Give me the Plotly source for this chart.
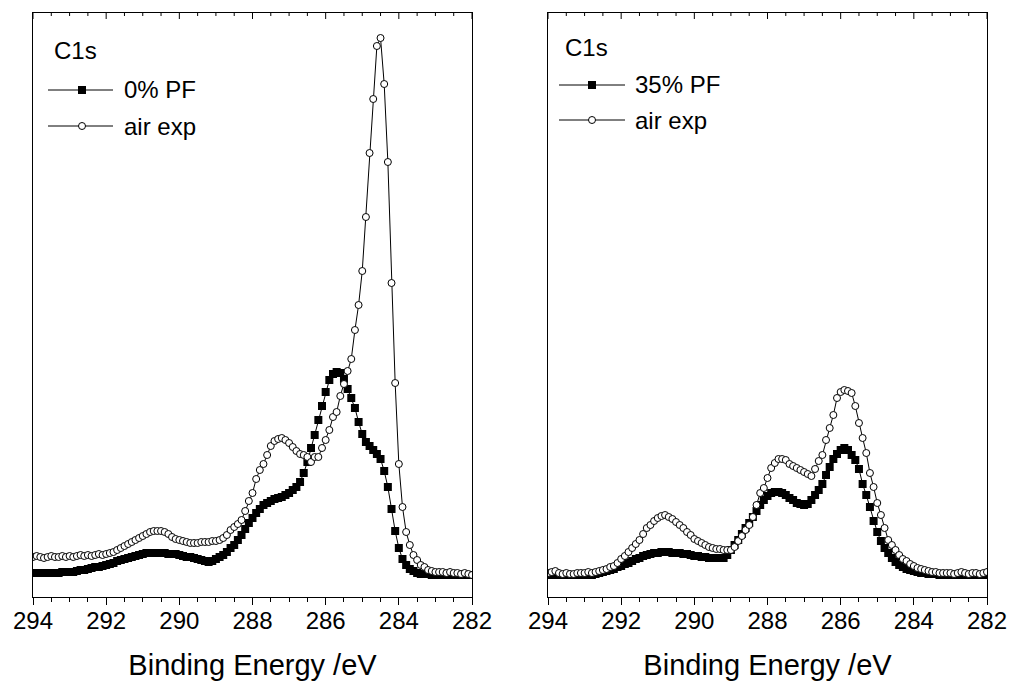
import plotly.graph_objects as go

# Binding energy grid (eV), 0.1 eV steps from 294 to 282
energy = [round(294.0 - 0.1 * i, 1) for i in range(121)]

# Left panel: 0% PF and air exp (intensity, a.u.)
pf0 = [24, 24, 24, 24, 24, 24, 24, 24, 25, 25,
       25, 25, 26, 27, 27, 28, 29, 30, 30, 31,
       32, 33, 34, 36, 37, 38, 39, 40, 41, 42,
       43, 44, 44, 44, 44, 44, 44, 43, 43, 43,
       42, 41, 40, 40, 39, 38, 37, 36, 35, 36,
       38, 40, 42, 45, 49, 52, 57, 62, 68, 74,
       79, 84, 88, 92, 94, 96, 98, 99, 100, 102,
       104, 107, 110, 115, 124, 135, 149, 162, 177, 191,
       205, 217, 223, 225, 224, 218, 208, 199, 189, 175,
       163, 155, 151, 147, 143, 138, 126, 110, 88, 66,
       49, 38, 32, 28, 26, 24, 23, 23, 23, 22,
       22, 22, 22, 22, 22, 22, 22, 22, 22, 22,
       22]

air_left = [40, 41, 40, 39, 40, 41, 40, 40, 41, 40,
            41, 40, 41, 42, 41, 42, 41, 42, 43, 42,
            43, 44, 45, 47, 49, 51, 53, 55, 57, 59,
            61, 63, 65, 66, 66, 66, 65, 63, 60, 58,
            57, 56, 55, 54, 54, 54, 55, 55, 55, 56,
            56, 57, 59, 62, 67, 70, 73, 77, 86, 96,
            104, 118, 127, 133, 142, 151, 156, 158, 159, 157,
            154, 150, 146, 143, 142, 140, 135, 140, 140, 149,
            157, 167, 180, 185, 201, 213, 226, 238, 267, 292,
            326, 380, 444, 498, 551, 559, 513, 435, 314, 214,
            133, 90, 65, 52, 42, 37, 32, 30, 27, 26,
            25, 25, 25, 24, 25, 24, 24, 23, 24, 23,
            22]

# Right panel: 35% PF and air exp
pf35 = [22, 22, 22, 22, 22, 22, 22, 22, 22, 22,
        22, 22, 22, 23, 24, 25, 26, 27, 28, 30,
        31, 33, 34, 36, 38, 39, 41, 42, 43, 44,
        44, 45, 45, 45, 44, 44, 44, 43, 43, 42,
        41, 41, 40, 40, 39, 39, 39, 39, 39, 42,
        47, 52, 57, 63, 69, 74, 80, 86, 92, 97,
        101, 104, 105, 105, 104, 102, 99, 97, 94, 93,
        92, 93, 97, 102, 107, 113, 122, 130, 138, 143,
        147, 149, 147, 142, 137, 128, 113, 102, 90, 76,
        65, 56, 49, 44, 39, 35, 32, 30, 28, 27,
        26, 25, 24, 24, 23, 23, 23, 22, 22, 22,
        22, 22, 22, 22, 22, 22, 22, 22, 22, 22,
        22]

air_right = [24, 25, 26, 24, 23, 24, 23, 23, 24, 24,
             24, 25, 24, 25, 26, 27, 28, 30, 31, 34,
             38, 41, 45, 49, 53, 57, 63, 69, 72, 76,
             79, 81, 82, 80, 78, 75, 72, 69, 65, 62,
             58, 56, 54, 52, 50, 49, 48, 48, 47, 47,
             47, 50, 56, 61, 67, 72, 80, 92, 104, 109,
             119, 129, 134, 138, 138, 137, 133, 131, 129, 127,
             125, 123, 121, 128, 136, 142, 157, 169, 182, 199,
             205, 207, 206, 204, 191, 174, 159, 144, 124, 110,
             94, 82, 69, 57, 52, 47, 42, 38, 36, 33,
             31, 29, 28, 27, 26, 25, 25, 24, 24, 24,
             24, 23, 24, 25, 24, 23, 24, 24, 23, 24,
             25]

tick_vals = [294, 292, 290, 288, 286, 284, 282]
tick_text = ["294", "292", "290", "288", "286", "284", "282"]
minor_step = 0.5
panel_title = "C1s"
legend_left = ["0% PF", "air exp"]
legend_right = ["35% PF", "air exp"]
x_title = "Binding Energy /eV"

W, H = 1011, 685
FONT = "Liberation Sans, Arial, sans-serif"


def fx(p):
    return p / W


def fy(p):
    return (H - p) / H


fig = go.Figure()

sq = dict(symbol="square", size=8, color="black", line=dict(width=0))
ci = dict(symbol="circle", size=7, color="white", line=dict(width=1, color="black"))

# squares on the bottom axes, circles on the overlaid axes (same range/domain) so they sit on top
fig.add_trace(go.Scatter(x=energy, y=pf0, mode="lines+markers", name=legend_left[0],
                         line=dict(color="black", width=1), marker=sq,
                         xaxis="x", yaxis="y", showlegend=False))
fig.add_trace(go.Scatter(x=energy, y=pf35, mode="lines+markers", name=legend_right[0],
                         line=dict(color="black", width=1), marker=sq,
                         xaxis="x2", yaxis="y2", showlegend=False))
fig.add_trace(go.Scatter(x=energy, y=air_left, mode="lines+markers", name=legend_left[1],
                         line=dict(color="black", width=1), marker=ci,
                         xaxis="x3", yaxis="y", showlegend=False))
fig.add_trace(go.Scatter(x=energy, y=air_right, mode="lines+markers", name=legend_right[1],
                         line=dict(color="black", width=1), marker=ci,
                         xaxis="x4", yaxis="y2", showlegend=False))

dom_left = [fx(33), fx(472)]
dom_right = [fx(548), fx(987)]
dom_y = [fy(597), fy(13)]
xr = [294, 282]
yr = [0, 584]

xbase = dict(range=xr, showline=True, linecolor="black", linewidth=1,
             ticks="outside", ticklen=7, tickwidth=1, tickcolor="black",
             tickvals=tick_vals, ticktext=tick_text, ticklabelstandoff=-5,
             tickfont=dict(family=FONT, size=24, color="black"),
             minor=dict(dtick=minor_step, tick0=282, ticks="outside", ticklen=4, tickwidth=1, tickcolor="black"),
             showgrid=False, zeroline=False, automargin=False,
             title=dict(text=x_title, font=dict(family=FONT, size=29, color="black"), standoff=21))
xtop = dict(range=xr, showline=True, linecolor="black", linewidth=1,
            ticks="", showticklabels=False,
            showgrid=False, zeroline=False, automargin=False, side="top")
ybase = dict(range=yr, showline=True, mirror=True, linecolor="black", linewidth=1,
             ticks="", showticklabels=False, showgrid=False, zeroline=False, automargin=False,
             domain=dom_y)

fig.update_layout(
    width=W, height=H, margin=dict(l=0, r=0, t=0, b=0),
    paper_bgcolor="white", plot_bgcolor="white", template="none",
    font=dict(family=FONT, color="black"),
    xaxis=dict(xbase, domain=dom_left, anchor="y"),
    yaxis=dict(ybase, anchor="x"),
    xaxis2=dict(xbase, domain=dom_right, anchor="y2"),
    yaxis2=dict(ybase, anchor="x2"),
    xaxis3=dict(xtop, overlaying="x", anchor="y", domain=dom_left),
    xaxis4=dict(xtop, overlaying="x2", anchor="y2", domain=dom_right),
)

shapes = []
annotations = []

# inward-pointing ticks along the top frame of both panels
top_ticks = [tick_vals[-1] + minor_step * k for k in range(int((tick_vals[0] - tick_vals[-1]) / minor_step) + 1)]
for xref in ["x", "x2"]:
    for v in top_ticks:
        length = 6 if v in tick_vals else 3
        shapes.append(dict(type="line", xref=xref, yref="paper", ysizemode="pixel",
                           yanchor=fy(13), x0=v, x1=v, y0=0, y1=-length,
                           line=dict(color="black", width=1)))

# Hand-drawn legends (line with centered marker, text to the right)
panels = [
    dict(title_x=52, title_y=51, rows=[(90, legend_left[0], "sq"), (126, legend_left[1], "ci")],
         lx0=48, lx1=113, mx=82, tx=122),
    dict(title_x=563, title_y=47, rows=[(85, legend_right[0], "sq"), (120, legend_right[1], "ci")],
         lx0=559, lx1=625, mx=592, tx=633),
]
for p in panels:
    annotations.append(dict(x=fx(p["title_x"]), y=fy(p["title_y"]), xref="paper", yref="paper",
                            text=panel_title, showarrow=False, xanchor="left", yanchor="middle",
                            font=dict(family=FONT, size=24, color="black")))
    for (yy, label, kind) in p["rows"]:
        shapes.append(dict(type="line", xref="paper", yref="paper",
                           x0=fx(p["lx0"]), x1=fx(p["lx1"]), y0=fy(yy), y1=fy(yy),
                           line=dict(color="black", width=1)))
        if kind == "sq":
            shapes.append(dict(type="rect", xref="paper", yref="paper",
                               xsizemode="pixel", ysizemode="pixel",
                               xanchor=fx(p["mx"]), yanchor=fy(yy), x0=-4, x1=4, y0=-4, y1=4,
                               fillcolor="black", line=dict(width=0)))
        else:
            shapes.append(dict(type="circle", xref="paper", yref="paper",
                               xsizemode="pixel", ysizemode="pixel",
                               xanchor=fx(p["mx"]), yanchor=fy(yy), x0=-3.5, x1=3.5, y0=-3.5, y1=3.5,
                               fillcolor="white", line=dict(color="black", width=1)))
        annotations.append(dict(x=fx(p["tx"]), y=fy(yy), xref="paper", yref="paper",
                                text=label, showarrow=False, xanchor="left", yanchor="middle",
                                font=dict(family=FONT, size=24, color="black")))

fig.update_layout(shapes=shapes, annotations=annotations)

fig.write_html("out.html")
